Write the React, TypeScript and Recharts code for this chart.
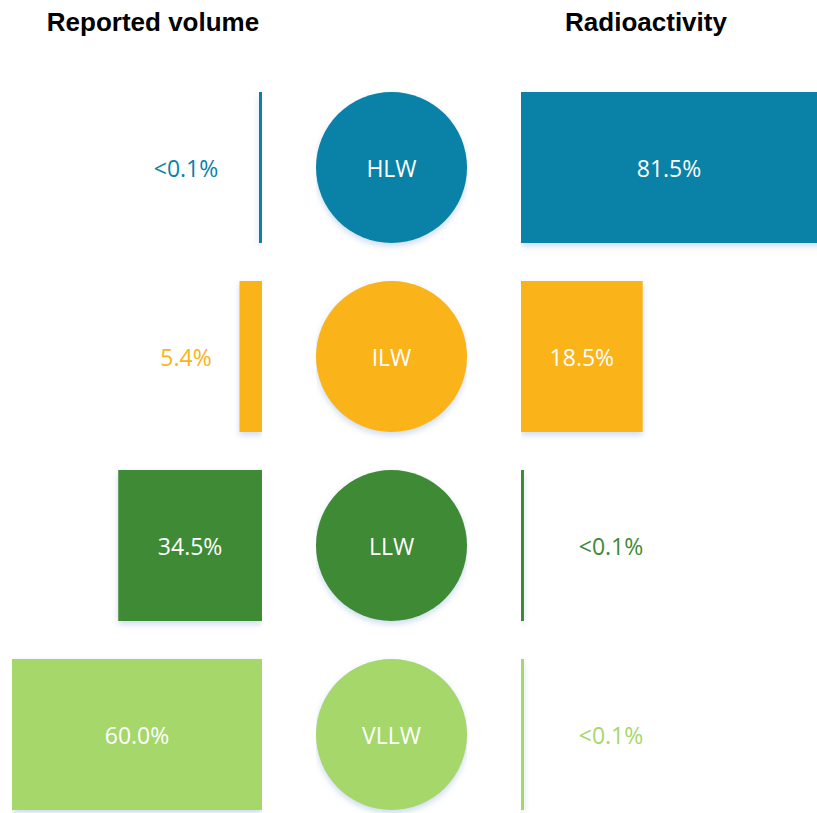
import React from "react";
import {
  BarChart,
  Bar,
  XAxis,
  YAxis,
  ScatterChart,
  Scatter,
} from "recharts";

// waste classes, top to bottom
const categories = ["HLW", "ILW", "LLW", "VLLW"];
const colors = ["#0A82A8", "#FBB31A", "#3E8A35", "#A5D76A"];

// share of reported volume (%), "<0.1%" kept as 0.05
const volumeValues = [0.05, 5.4, 34.5, 60.0];
// share of radioactivity (%)
const radioactivityValues = [81.5, 18.5, 0.05, 0.05];

const volumeData = categories.map((name, i) => ({ name, value: volumeValues[i] }));
const radioData = categories.map((name, i) => ({ name, value: radioactivityValues[i] }));
const circleData = categories.map((name) => ({ name, x: 0 }));

const ROW_H = 189;
const CHART_H = ROW_H * categories.length;
const BAR_SIZE = 151;
const LABEL_FONT = "'Open Sans', sans-serif";
const SHADOW = "drop-shadow(0px 3px 3px rgba(110,150,210,0.35))";

const fmt = (v: number) => (v < 0.1 ? "<0.1%" : `${v.toFixed(1)}%`);

// draws the bar plus its percentage label; small bars get their label outside
function makeBarShape(side: "left" | "right", outsideOffset: number, plotW: number) {
  return (props: any) => {
    const { x, y, width, height, index, value } = props;
    const x0 = Math.min(x, x + width);
    const w = Math.abs(width);
    const base = side === "left" ? Math.max(x, x + width) : x0;
    const color = colors[index];
    const v = Array.isArray(value) ? value[1] - value[0] : value;
    const inside = w > 70;
    const visW = Math.min(w, plotW);
    const lx = inside
      ? side === "left"
        ? base - visW / 2
        : base + visW / 2
      : side === "left"
        ? base - outsideOffset
        : base + outsideOffset;
    return (
      <g>
        <rect x={x0} y={y} width={w} height={height} fill={color} style={{ filter: SHADOW }} />
        <text
          x={lx}
          y={y + height / 2}
          textAnchor="middle"
          dominantBaseline="central"
          fill={inside ? "#ffffff" : color}
          fontFamily={LABEL_FONT}
          fontSize={23}
        >
          {fmt(v)}
        </text>
      </g>
    );
  };
}

const CircleShape = (props: any) => {
  const { cx, cy, payload } = props;
  const i = categories.indexOf(payload.name);
  return (
    <g>
      <circle cx={cx} cy={cy} r={75.5} fill={colors[i]} style={{ filter: SHADOW }} />
      <text
        x={cx}
        y={cy}
        textAnchor="middle"
        dominantBaseline="central"
        fill="#ffffff"
        fontFamily={LABEL_FONT}
        fontSize={23}
      >
        {payload.name}
      </text>
    </g>
  );
};

const titleStyle: React.CSSProperties = {
  position: "absolute",
  top: 9,
  width: 300,
  textAlign: "center",
  fontFamily: "'Liberation Sans', Arial, sans-serif",
  fontWeight: "bold",
  fontSize: 26,
  lineHeight: "26px",
  color: "#000",
};

export default function App() {
  const leftW = 250;
  const rightW = 296;
  return (
    <div
      style={{
        position: "absolute",
        left: 0,
        top: 0,
        width: 817,
        height: 813,
        overflow: "hidden",
        background: "#ffffff",
      }}
    >
      <div style={{ ...titleStyle, left: 153 - 150 }}>Reported volume</div>
      <div style={{ ...titleStyle, left: 646 - 150 }}>Radioactivity</div>

      <div style={{ position: "absolute", top: 73, left: 12 }}>
        <BarChart
          width={leftW}
          height={CHART_H}
          data={volumeData}
          layout="vertical"
          margin={{ top: 0, right: 0, bottom: 0, left: 0 }}
        >
          <XAxis type="number" domain={[0, 60]} reversed hide />
          <YAxis type="category" dataKey="name" hide />
          <Bar
            dataKey="value"
            barSize={BAR_SIZE}
            minPointSize={3}
            isAnimationActive={false}
            shape={makeBarShape("left", 76, leftW)}
          />
        </BarChart>
      </div>

      <div style={{ position: "absolute", top: 73, left: 316 }}>
        <ScatterChart
          width={151}
          height={CHART_H}
          margin={{ top: 0, right: 0, bottom: 0, left: 0 }}
        >
          <XAxis type="number" dataKey="x" domain={[-1, 1]} hide />
          <YAxis
            type="category"
            dataKey="name"
            allowDuplicatedCategory={false}
            reversed
            hide
          />
          <Scatter data={circleData} isAnimationActive={false} shape={CircleShape} />
        </ScatterChart>
      </div>

      <div style={{ position: "absolute", top: 73, left: 521 }}>
        <BarChart
          width={rightW}
          height={CHART_H}
          data={radioData}
          layout="vertical"
          margin={{ top: 0, right: 0, bottom: 0, left: 0 }}
        >
          <XAxis type="number" domain={[0, 45]} allowDataOverflow hide />
          <YAxis type="category" dataKey="name" hide />
          <Bar
            dataKey="value"
            barSize={BAR_SIZE}
            minPointSize={3}
            isAnimationActive={false}
            shape={makeBarShape("right", 90, rightW)}
          />
        </BarChart>
      </div>
    </div>
  );
}
